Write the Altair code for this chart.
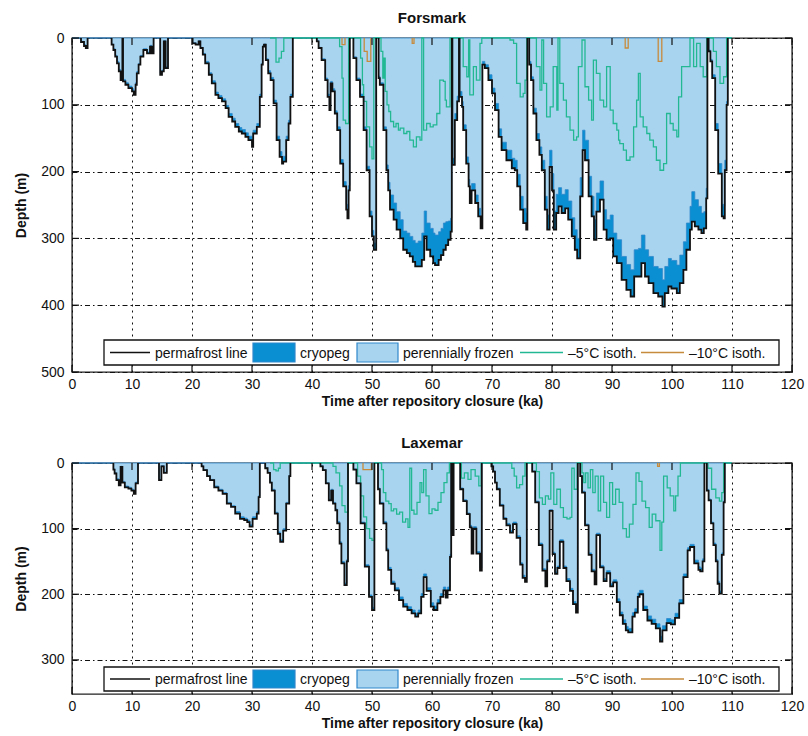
import altair as alt
import pandas as pd

# ---------------- Forsmark (upper panel) ----------------
# time (ka), permafrost depth (m), cryopeg thickness (m)
F_T = [0, 1.5, 2.0, 2.3, 2.6, 6.6, 6.9, 7.2, 7.5, 7.8, 8.1, 8.4, 8.5, 8.9, 9.4, 10.0, 10.3, 10.6, 10.8, 11.1, 11.4, 11.9, 12.5, 13.0, 13.3, 13.6, 14.7, 15.0, 15.3, 15.6, 16.0,
       20.1, 20.6, 21.1, 21.4, 21.8, 22.2, 22.8, 23.3, 23.9, 24.4, 25.0, 25.6, 26.1, 26.7, 27.2, 27.8, 28.3, 28.9, 29.4, 30.0, 30.2, 30.8, 31.3, 31.6, 31.8, 32.0, 32.3, 32.7, 33.1, 33.6, 34.1, 34.6, 35.0, 35.2, 35.7, 36.1, 36.4, 36.8,
       40.8, 41.1, 41.6, 42.2, 42.6, 42.9, 43.1, 43.4, 43.8, 44.2, 44.7, 45.2, 45.7, 45.9, 46.1, 46.3,
       46.9, 47.4, 48.0, 48.6, 49.1, 49.6, 50.0, 50.3, 50.7,
       51.1, 51.3, 51.9, 52.4, 52.7, 53.0, 53.6, 54.1, 54.7, 55.2, 55.8, 56.3, 56.8, 57.2, 57.7, 58.3, 58.7, 59.1, 59.7, 60.2, 60.5, 61.1, 61.5, 61.9, 62.3, 62.7, 63.1, 63.3,
       63.4, 63.8, 64.2, 64.5, 64.6, 65.0, 65.2, 65.7, 66.1, 66.3, 66.6, 67.2, 67.7, 68.1, 68.4, 68.8, 69.4, 70.0, 70.5, 71.1, 71.6, 72.4, 73.3, 73.8, 74.2, 74.7, 75.2, 75.7, 75.9,
       76.2, 76.5, 76.9, 77.4, 77.9, 78.3, 78.8, 79.2, 79.6, 80.0, 80.3, 80.7, 81.1, 81.6, 82.2, 82.7, 83.3, 83.8, 84.2, 84.7, 85.1, 85.5, 86.1, 86.6, 87.0, 87.4, 88.0, 88.6, 89.1, 89.7,
       90.2, 90.8, 91.6, 92.4, 93.1, 93.7, 94.4, 94.9, 95.5, 96.1, 96.9, 97.7, 98.4, 98.8, 99.4, 99.9, 100.8, 101.3, 101.9, 102.4, 103.0, 103.3, 103.8, 104.4, 104.9, 105.3, 105.7, 105.9,
       106.1, 106.4, 106.7, 107.2, 107.7, 108.3, 108.6, 108.8, 109.1, 109.3, 110.0]
F_PF = [0, 6, 12, 15, 0, 10, 18, 28, 38, 50, 63, 0, 65, 70, 75, 80, 85, 70, 53, 40, 28, 18, 23, 13, 23, 0, 55, 50, 5, 45, 0,
        8, 10, 5, 15, 25, 38, 55, 68, 85, 90, 95, 105, 118, 125, 133, 140, 143, 148, 153, 163, 143, 133, 88, 40, 13, 10, 33, 53, 63, 98, 153, 178, 188, 185, 153, 128, 88, 0,
        5, 15, 33, 63, 88, 108, 68, 80, 113, 138, 188, 222, 257, 270, 228, 0,
        30, 63, 88, 138, 198, 267, 297, 317, 0,
        60, 70, 138, 198, 228, 257, 272, 287, 300, 317, 322, 327, 335, 342, 342, 332, 297, 317, 327, 337, 340, 332, 325, 317, 310, 302, 290, 0,
        190, 123, 95, 0, 88, 103, 138, 188, 222, 247, 228, 247, 267, 285, 40, 45, 63, 83, 108, 148, 168, 183, 195, 198, 222, 257, 277, 287, 0,
        40, 63, 113, 153, 175, 198, 257, 287, 193, 228, 287, 262, 252, 262, 255, 272, 297, 317, 330, 237, 168, 183, 237, 267, 302, 260, 242, 287, 302, 300,
        327, 337, 362, 377, 387, 357, 357, 337, 357, 367, 382, 387, 402, 382, 372, 375, 382, 367, 347, 317, 287, 275, 282, 287, 292, 285, 240, 0,
        20, 35, 60, 138, 203, 267, 270, 198, 100, 0, 0]
F_CRY = [0, 1, 2, 2, 0, 1, 2, 2, 3, 3, 3, 0, 3, 3, 3, 4, 4, 3, 3, 2, 2, 2, 2, 2, 2, 0, 2, 2, 1, 2, 0,
         1, 1, 1, 1, 2, 3, 3, 4, 4, 4, 4, 4, 5, 5, 5, 6, 6, 6, 6, 6, 5, 5, 4, 2, 1, 1, 2, 4, 4, 5, 6, 8, 8, 8, 6, 5, 4, 0,
         1, 1, 2, 3, 4, 4, 3, 4, 4, 5, 6, 7, 8, 8, 7, 0,
         2, 3, 4, 5, 6, 8, 9, 10, 0,
         3, 3, 5, 8, 12, 22, 25, 27, 28, 28, 30, 30, 32, 35, 38, 40, 38, 40, 42, 45, 45, 42, 40, 40, 35, 28, 20, 0,
         10, 10, 8, 0, 8, 8, 8, 10, 10, 10, 10, 12, 12, 12, 5, 5, 8, 8, 10, 12, 12, 15, 15, 15, 18, 20, 22, 25, 0,
         5, 5, 8, 10, 12, 15, 20, 22, 25, 25, 28, 28, 28, 28, 28, 28, 28, 30, 30, 28, 30, 30, 30, 30, 30, 28, 28, 30, 30, 35,
         35, 35, 35, 38, 40, 40, 42, 42, 40, 40, 40, 42, 40, 40, 42, 42, 42, 42, 42, 40, 35, 45, 40, 35, 30, 25, 15, 0,
         2, 3, 5, 10, 15, 18, 18, 15, 5, 0, 0]
# -5 degC isotherm
F5_T = [33.0, 34.0, 34.5, 34.9, 35.3, 44.6, 45.0, 45.2, 45.6, 46.1, 48.1, 48.4, 48.6, 49.1, 49.6, 50.0, 50.3, 51.5, 51.8, 52.0,
        52.2, 52.5, 52.8, 53.1, 53.6, 54.0, 54.4, 54.7, 55.3, 55.8, 56.3, 56.9, 57.4, 58.0, 58.3, 58.6, 59.1, 59.7, 60.2, 60.8,
        61.3, 61.9, 62.2, 62.4, 63.0, 65.2, 65.8, 66.1, 66.3, 66.9, 67.4, 68.0, 68.3, 73.0, 73.6, 74.1, 74.7, 75.2, 75.5, 75.8,
        77.4, 78.0, 78.3, 78.6, 79.1, 79.7, 80.2, 80.8, 81.0, 81.3, 81.9, 82.4, 83.0, 83.6, 84.1, 84.4, 85.0, 85.5, 86.1, 86.6,
        86.9, 87.4, 88.0, 88.6, 89.1, 89.7, 90.2, 90.8, 91.1, 91.3, 91.9, 92.4, 93.0, 93.6, 94.1, 94.4, 94.7, 95.2, 95.8, 96.3,
        96.9, 97.4, 98.0, 98.6, 99.1, 99.7, 100.2, 100.8, 101.1, 101.6, 102.4, 103.0, 103.6, 104.1, 104.7, 105.2, 105.8, 106.9, 107.4, 108.0,
        108.6, 109.1, 110.0]
F5_D = [0, 36, 30, 20, 0, 13, 60, 123, 128, 0, 30, 70, 95, 133, 163, 181, 0, 20, 60, 30,
        80, 100, 110, 125, 133, 128, 138, 135, 143, 140, 153, 163, 148, 153, 0, 138, 128, 133, 130, 113,
        63, 65, 93, 103, 0, 43, 58, 3, 85, 43, 63, 8, 0, 3, 8, 68, 88, 83, 63, 0,
        43, 78, 3, 68, 118, 103, 43, 108, 0, 68, 93, 118, 138, 153, 148, 43, 3, 73, 93, 123,
        33, 53, 93, 103, 43, 108, 128, 138, 153, 158, 168, 183, 178, 133, 93, 53, 118, 133, 143, 153,
        163, 183, 198, 188, 113, 128, 138, 148, 88, 43, 43, 0, 43, 8, 43, 58, 0, 20, 43, 68,
        58, 0, 0]
# -10 degC isotherm
F10_T = [40.0, 45.0, 45.5, 48.7, 49.2, 49.8, 56.7, 57.0, 92.2, 92.7, 97.7, 98.3, 110.0]
F10_D = [0, 10, 0, 20, 35, 0, 8, 0, 15, 0, 35, 0, 0]

# ---------------- Laxemar (lower panel) ----------------
L_T = [0, 6.9, 7.1, 7.4, 7.8, 8.1, 8.4, 8.8, 9.4, 9.9, 10.3, 10.6, 11.0,
       14.5, 14.9, 15.3, 15.8,
       21.6, 21.9, 22.5, 23.0, 23.7, 24.4, 25.1, 25.8, 26.5, 27.2, 28.0, 28.7, 29.2, 29.6, 30.1, 30.8, 31.1, 31.3,
       32.2, 32.6, 33.0, 33.3, 33.8, 34.3, 34.7, 35.2, 35.7, 36.2, 36.4,
       41.4, 41.8, 42.3, 42.8, 43.2, 43.5, 43.9, 44.2, 44.6, 44.9, 45.4, 45.8, 46.0,
       46.9, 47.4, 48.1, 48.8, 49.5, 50.0, 50.4,
       51.0, 51.3, 51.9, 52.4, 52.7, 53.2, 53.8, 54.5, 55.2, 55.9, 56.6, 57.2, 57.7, 58.2, 58.6, 59.1, 59.8, 60.3, 60.9, 61.4, 61.9, 62.3, 62.6, 63.0, 63.2,
       63.3, 63.6,
       64.7, 65.2, 65.8, 66.3, 66.6, 66.9, 67.4, 68.0, 68.3,
       69.9, 70.2, 70.5, 70.8, 71.3, 71.9, 72.4, 73.0, 73.5, 74.1, 74.7, 75.1, 75.5, 75.8,
       76.7, 77.2, 77.8, 78.4, 78.9, 79.2, 79.6, 80.1, 80.5, 80.9, 81.3, 81.9, 82.4, 83.0, 83.5, 84.0, 84.3,
       84.7, 85.0, 85.5, 86.1, 86.6, 87.1, 87.4, 88.0, 88.6, 89.1, 89.7, 90.2, 90.8, 91.3, 91.8, 92.3, 92.7, 93.4, 93.8, 94.3,
       94.6, 95.2, 95.9, 96.6, 97.3, 98.0, 98.4, 99.1, 99.8, 100.5, 101.2, 101.9, 102.6, 103.0, 103.7, 104.4, 104.7, 105.1, 105.4,
       105.8, 106.1, 106.5, 106.9, 107.3, 107.6, 107.9, 108.3, 108.6, 108.8, 110.0]
L_PF = [0, 10, 16, 26, 34, 6, 30, 37, 39, 42, 47, 31, 0,
        26, 5, 15, 0,
        5, 11, 20, 26, 37, 42, 47, 62, 67, 77, 85, 87, 90, 97, 85, 77, 52, 0,
        8, 15, 30, 42, 77, 108, 120, 103, 62, 20, 0,
        5, 11, 31, 57, 42, 62, 72, 92, 123, 153, 186, 150, 0,
        10, 31, 92, 158, 204, 224, 0,
        40, 62, 92, 133, 163, 184, 194, 209, 219, 224, 229, 234, 229, 204, 174, 195, 219, 224, 214, 204, 194, 205, 194, 143, 0,
        110, 0,
        40, 58, 78, 98, 138, 100, 138, 164, 0,
        5, 13, 30, 40, 65, 85, 95, 106, 93, 114, 155, 175, 181, 0,
        13, 60, 125, 164, 188, 150, 73, 139, 169, 160, 120, 160, 180, 195, 215, 228, 0,
        20, 45, 95, 140, 165, 185, 110, 159, 180, 168, 188, 182, 212, 232, 245, 255, 258, 234, 228, 204,
        200, 224, 240, 245, 252, 272, 255, 244, 246, 236, 214, 174, 133, 128, 153, 163, 165, 150, 0,
        42, 57, 92, 125, 150, 184, 199, 140, 60, 0, 0]
L_CRY = [0, 1, 1, 2, 2, 1, 2, 2, 2, 2, 3, 2, 0,
         1, 1, 1, 0,
         1, 1, 1, 1, 2, 2, 2, 2, 2, 3, 3, 3, 3, 3, 3, 3, 2, 0,
         1, 1, 1, 2, 2, 3, 3, 3, 2, 1, 0,
         1, 1, 1, 2, 2, 2, 2, 3, 3, 3, 3, 3, 0,
         1, 1, 2, 3, 3, 4, 0,
         2, 2, 3, 3, 4, 4, 4, 5, 5, 5, 5, 5, 5, 5, 5, 5, 6, 6, 6, 5, 5, 5, 5, 4, 0,
         3, 0,
         2, 2, 2, 3, 3, 3, 3, 4, 0,
         1, 1, 1, 2, 2, 2, 3, 3, 3, 3, 3, 4, 4, 0,
         1, 2, 3, 3, 4, 3, 2, 3, 3, 3, 3, 3, 4, 4, 4, 4, 0,
         1, 2, 2, 3, 3, 3, 3, 3, 4, 4, 4, 4, 5, 5, 6, 6, 6, 6, 6, 6,
         6, 6, 7, 7, 7, 8, 7, 7, 7, 7, 6, 5, 4, 4, 5, 5, 5, 4, 0,
         2, 2, 2, 3, 3, 4, 4, 3, 2, 0, 0]
L5_T = [33.0, 33.6, 34.0, 34.4, 34.7, 43.5, 44.0, 44.6, 45.0, 45.5,
        46.0, 47.6, 48.1, 48.6, 49.1, 49.6, 50.0, 50.4, 51.6, 51.9,
        52.3, 52.8, 53.2, 53.6, 54.1, 54.6, 55.1, 55.6, 56.0, 56.3,
        56.6, 57.0, 57.5, 58.0, 58.3, 58.6, 59.0, 59.5, 60.0, 60.5,
        61.0, 61.5, 62.0, 62.5, 62.9, 64.9, 65.4, 66.0, 66.5, 67.2,
        67.8, 68.2, 73.3, 73.7, 74.1, 74.6, 75.1, 75.5, 77.4, 77.9,
        78.4, 78.9, 79.4, 79.8, 80.3, 80.8, 81.4, 81.9, 82.5, 83.0,
        83.3, 83.7, 84.2, 85.0, 85.3, 85.6, 86.0, 86.4, 86.8, 87.2,
        87.7, 88.1, 88.6, 89.1, 89.6, 90.1, 90.6, 91.2, 91.8, 92.4,
        92.9, 93.5, 94.0, 94.5, 95.0, 95.6, 96.2, 96.7, 97.3, 98.0,
        98.3, 98.6, 99.2, 99.7, 100.3, 100.6, 101.0, 101.4, 106.0, 106.6,
        107.3, 107.9, 108.3, 108.6, 110.0]
L5_D = [0, 10, 12, 8, 0, 5, 15, 35, 65, 75,
        0, 20, 50, 82, 100, 115, 118, 0, 10, 45,
        58, 62, 73, 70, 78, 75, 90, 85, 98, 8,
        72, 78, 60, 30, 45, 10, 50, 77, 70, 72,
        60, 45, 30, 15, 0, 23, 15, 25, 10, 20,
        35, 0, 8, 20, 38, 33, 20, 0, 13, 53,
        63, 50, 55, 15, 63, 40, 68, 83, 85, 83,
        8, 40, 0, 15, 30, 15, 38, 10, 45, 20,
        73, 20, 60, 83, 30, 63, 40, 60, 100, 113,
        93, 63, 15, 28, 58, 68, 98, 78, 88, 133,
        90, 20, 38, 50, 73, 50, 20, 0, 8, 40,
        53, 58, 45, 0, 0]
L10_T = [40.0, 48.5, 49.9, 97.6, 97.9, 110.0]
L10_D = [0, 10, 0, 5, 0, 0]

X_TICKS = list(range(0, 121, 10))
F_Y_TICKS = [0, 100, 200, 300, 400, 500]
L_Y_TICKS = [0, 100, 200, 300]
LEGEND_LABELS = ["permafrost line", "cryopeg", "perennially frozen", "\u20135\u00b0C isoth.", "\u201310\u00b0C isoth."]

FONT = "Liberation Sans"
W = 720
C_CRYO = "#0a8fd3"
C_FROZ = "#a9d4ef"
C_EDGE = "#3088cc"
C_M5 = "#22b894"
C_M10 = "#c68b3c"
C_INK = "#111111"


def segment_frame(T, V):
    """Split a step series into its non-zero excursions (each closed at 0)."""
    rows = []
    seg = 0
    i, n = 0, len(T)
    while i < n:
        if V[i] > 0:
            seg += 1
            rows.append({"t": T[i], "d": 0, "seg": seg})
            while i < n and V[i] > 0:
                rows.append({"t": T[i], "d": V[i], "seg": seg})
                i += 1
            if i < n:
                rows.append({"t": T[i], "d": 0, "seg": seg})
        else:
            i += 1
    df = pd.DataFrame(rows)
    df["o"] = range(len(df))
    return df


def legend_layers(top, bot):
    one = alt.Data(values=[{"k": 1}])
    mid = (top + bot) / 2
    out = []
    out.append(alt.Chart(one).mark_rect(fill="white", stroke=C_INK, strokeWidth=1.3).encode(
        x=alt.value(32), x2=alt.value(707), y=alt.value(top), y2=alt.value(bot)))
    out.append(alt.Chart(one).mark_rule(color=C_INK, strokeWidth=1.6).encode(
        x=alt.value(38), x2=alt.value(78), y=alt.value(mid)))
    out.append(alt.Chart(one).mark_rect(fill=C_CRYO, stroke=C_EDGE, strokeWidth=1.2).encode(
        x=alt.value(181), x2=alt.value(223), y=alt.value(top + 3), y2=alt.value(bot - 3)))
    out.append(alt.Chart(one).mark_rect(fill=C_FROZ, stroke=C_EDGE, strokeWidth=1.2).encode(
        x=alt.value(285), x2=alt.value(326), y=alt.value(top + 3), y2=alt.value(bot - 3)))
    out.append(alt.Chart(one).mark_rule(color=C_M5, strokeWidth=1.6).encode(
        x=alt.value(448), x2=alt.value(491), y=alt.value(mid)))
    out.append(alt.Chart(one).mark_rule(color=C_M10, strokeWidth=1.6).encode(
        x=alt.value(569), x2=alt.value(612), y=alt.value(mid)))
    for lab, xp in zip(LEGEND_LABELS, [83, 228, 331, 496, 617]):
        out.append(alt.Chart(one).mark_text(text=lab, align="left", baseline="middle", font=FONT,
                                            fontSize=14, color=C_INK).encode(
            x=alt.value(xp), y=alt.value(mid + 1)))
    return out


def panel(title, T, PF, CRY, T5, D5, T10, D10, ymax, yticks, H, leg_top, leg_bot):
    xs = alt.Scale(domain=[0, 120], nice=False, zero=False)
    ys = alt.Scale(domain=[0, ymax], reverse=True, nice=False, zero=False)
    area = pd.DataFrame({"t": T, "pf": PF, "cry": CRY})
    area["froz"] = area["pf"] - area["cry"]
    area["z"] = 0
    xaxis = alt.Axis(values=X_TICKS, title="Time after repository closure (ka)", grid=True,
                     gridDash=[2, 4], labelFlush=False, labelOverlap=False,
                     titlePadding=3, labelPadding=5)
    yaxis = alt.Axis(values=yticks, title="Depth (m)", grid=True, gridDash=[5, 3, 1.5, 3],
                     labelFlush=False, labelOverlap=False, titlePadding=12, labelPadding=8)

    def X(f):
        return alt.X(f, type="quantitative", scale=xs, axis=xaxis)

    def Y(f):
        return alt.Y(f, type="quantitative", scale=ys, axis=yaxis)

    cryo = alt.Chart(area).mark_area(interpolate="step-after", color=C_CRYO).encode(
        x=X("t"), y=Y("pf"), y2=alt.Y2("z"))
    froz = alt.Chart(area).mark_area(interpolate="step-after", fill=C_FROZ, stroke=C_EDGE,
                                     strokeWidth=0.8).encode(
        x=X("t"), y=Y("froz"), y2=alt.Y2("z"))

    d5 = pd.DataFrame({"t": T5, "d": D5})
    d5["o"] = range(len(d5))
    m10 = alt.Chart(segment_frame(T10, D10)).mark_line(
        interpolate="step-after", color=C_M10, strokeWidth=1.3).encode(
        x=X("t"), y=Y("d"), detail="seg:N", order="o:Q")
    m5 = alt.Chart(d5).mark_line(interpolate="step-after", color=C_M5, strokeWidth=1.3).encode(
        x=X("t"), y=Y("d"), order="o:Q")

    pfl = alt.Chart(segment_frame(T, PF)).mark_line(
        interpolate="step-after", color=C_INK, strokeWidth=1.8).encode(
        x=X("t"), y=Y("d"), detail="seg:N", order="o:Q")

    tx = pd.DataFrame({"v": X_TICKS})
    ty = pd.DataFrame({"v": yticks})
    xt_b = alt.Chart(tx).mark_rule(color=C_INK, strokeWidth=1.2).encode(
        x=X("v"), y=alt.value(H), y2=alt.value(H - 7))
    xt_t = alt.Chart(tx).mark_rule(color=C_INK, strokeWidth=1.2).encode(
        x=X("v"), y=alt.value(0), y2=alt.value(7))
    yt_l = alt.Chart(ty).mark_rule(color=C_INK, strokeWidth=1.2).encode(
        y=Y("v"), x=alt.value(0), x2=alt.value(7))
    yt_r = alt.Chart(ty).mark_rule(color=C_INK, strokeWidth=1.2).encode(
        y=Y("v"), x=alt.value(W), x2=alt.value(W - 7))

    layers = [cryo, froz, m5, m10, pfl, xt_b, xt_t, yt_l, yt_r] + legend_layers(leg_top, leg_bot)
    return alt.layer(*layers).properties(
        width=W, height=H,
        title=alt.TitleParams(title, font=FONT, fontSize=15, fontWeight="bold", color=C_INK,
                              offset=5, anchor="middle"))


top = panel("Forsmark", F_T, F_PF, F_CRY, F5_T, F5_D, F10_T, F10_D, 500, F_Y_TICKS, 334, 302, 327)
bottom = panel("Laxemar", L_T, L_PF, L_CRY, L5_T, L5_D, L10_T, L10_D, 352, L_Y_TICKS, 231, 204, 228)

chart = alt.vconcat(top, bottom, spacing=26).resolve_scale(
    x="independent", y="independent"
).properties(
    padding={"left": 13, "top": 10, "right": 2, "bottom": 0},
    background="white"
).configure_view(
    stroke="#222222", strokeWidth=1.4
).configure_axis(
    labelFont=FONT, titleFont=FONT, labelFontSize=14, titleFontSize=14, titleFontWeight="bold",
    labelColor=C_INK, titleColor=C_INK, domain=False, ticks=False,
    gridColor=C_INK, gridOpacity=1, gridWidth=1
)

chart.save("out.html", embed_options={"renderer": "svg", "actions": False})
